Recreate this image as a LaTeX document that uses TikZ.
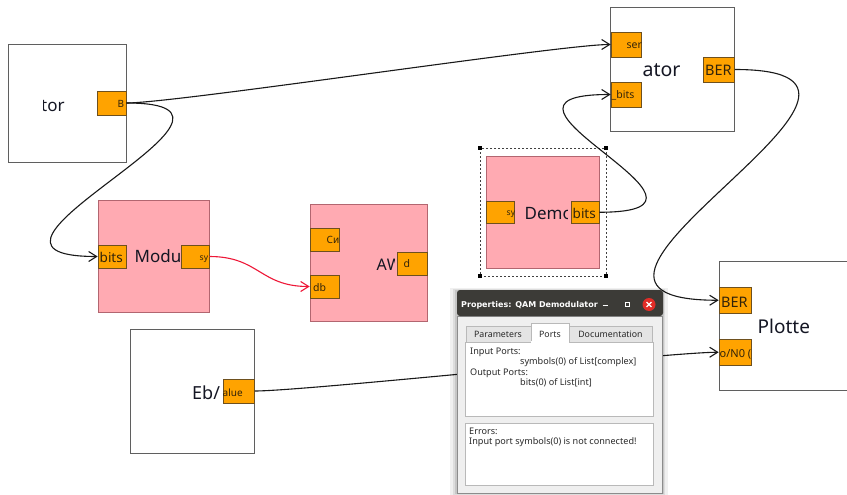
\documentclass[tikz,border=0pt]{standalone}
\usepackage{fontspec}
\setmainfont{Noto Sans}
\newfontfamily\dlgtitlefont{DejaVu Sans}
\usetikzlibrary{arrows.meta}
\definecolor{pinkfill}{RGB}{255,170,178}
\definecolor{pinkborder}{RGB}{178,102,112}
\definecolor{portfill}{RGB}{255,163,0}
\definecolor{portborder}{RGB}{110,80,30}
\definecolor{porttext}{RGB}{50,35,10}
\definecolor{blockborder}{RGB}{95,95,95}
\definecolor{titlecol}{RGB}{20,22,35}
\definecolor{wirecol}{RGB}{25,25,25}
\definecolor{redwire}{RGB}{238,24,56}
\definecolor{titlebar}{RGB}{60,59,55}
\definecolor{dlgbody}{RGB}{239,239,239}
\definecolor{dlgline}{RGB}{185,185,185}
\definecolor{tabfill}{RGB}{228,228,228}
\definecolor{closered}{RGB}{225,45,40}
\definecolor{dlgtext}{RGB}{40,40,40}
\newcommand\myfs[1]{\fontsize{#1}{#1}\selectfont}
\newcommand\mkport[9]{%
  \node[port, minimum width=#4pt, minimum height=#5pt] (#1) at (#2,#3) {};
  \begin{scope}
    \clip (#1.south west) rectangle (#1.north east);
    \node[plabel, font=\myfs{#9}] (#1l) at (#7,#8) {#6};
  \end{scope}}
\tikzset{
  wblock/.style={draw=blockborder, fill=white, line width=0.8pt, inner sep=0pt},
  pblock/.style={draw=pinkborder, fill=pinkfill, line width=0.8pt, inner sep=0pt},
  port/.style={draw=portborder, fill=portfill, line width=0.7pt, inner sep=0pt},
  plabel/.style={anchor=base west, inner sep=0pt, text=porttext},
  btitle/.style={anchor=base west, inner sep=0pt, text=titlecol, font=\myfs{17}},
  wire/.style={draw=wirecol, line width=1.1pt, -{Straight Barb[length=8pt,width=10pt]}},
  dtext/.style={anchor=base west, inner sep=0pt, text=dlgtext, font=\myfs{9.1}},
  tabtext/.style={anchor=base, inner sep=0pt, text=dlgtext, font=\myfs{8.8}},
}
\begin{document}
\begin{tikzpicture}[x=1pt,y=-1pt]
\useasboundingbox (0,0) rectangle (847,495);
\fill[white] (0,0) rectangle (847,495);

% ---------- blocks ----------
\node[wblock, minimum width=118pt, minimum height=118pt] (gen) at (67,103) {};
\node[pblock, minimum width=111pt, minimum height=112pt] (mod) at (153.5,256) {};
\node[pblock, minimum width=117pt, minimum height=117pt] (awgn) at (368.5,262.5) {};
\node[pblock, minimum width=113pt, minimum height=112pt] (dem) at (542.5,212) {};
\node[wblock, minimum width=124pt, minimum height=124.5pt] (eval) at (672.5,69.25) {};
\node[wblock, minimum width=140pt, minimum height=129pt] (plot) at (789,326) {};
\node[wblock, minimum width=124pt, minimum height=124.5pt] (ebn) at (192.5,391.25) {};

% selection frame round the demodulator
\draw[black!75, line width=0.6pt, dash pattern=on 2pt off 2pt] (480,148) rectangle (606,276);
\foreach \p in {(480,148),(606,148),(480,276),(606,276)}
  \fill[black] \p ++(-2,-2) rectangle ++(4,4);

% ---------- block titles (clipped as shown) ----------
\begin{scope}\clip (43.5,80) rectangle (96,125);
  \node[btitle] (tGen) at (41,111) {tor};\end{scope}
\begin{scope}\clip (120,235) rectangle (179,275);
  \node[btitle] (tMod) at (134.5,262) {Mod\rlap{u}};\end{scope}
\begin{scope}\clip (360,245) rectangle (394,280);
  \node[btitle, font=\myfs{16}] (tAwgn) at (376.5,270) {A\rlap{W}};\end{scope}
\begin{scope}\clip (515,195) rectangle (567,230);
  \node[btitle] (tDem) at (524.5,219) {Dem\rlap{o}};\end{scope}
\node[btitle, font=\myfs{19.5}] (tEval) at (642.5,77) {ator};
\begin{scope}\clip (752,305) rectangle (811,345);
  \node[btitle, font=\myfs{19}] (tPlot) at (757.5,333) {Plott\rlap{e}};\end{scope}
\begin{scope}\clip (185,375) rectangle (219,410);
  \node[btitle, font=\myfs{18}] (tEb) at (192,399) {Eb\rlap{/}};\end{scope}

% ---------- ports ----------
\mkport{gB}{111.5}{103}{29}{24}{B}{117.5}{108}{10}
\mkport{mBits}{112}{256.5}{28}{23}{bits}{99.5}{262}{13.5}
\mkport{mSy}{195}{256.5}{28}{23}{s\rlap{y}}{199.5}{260}{8.5}
\mkport{aCi}{324.5}{239.75}{29}{23.5}{Си}{326.5}{243.5}{10}
\mkport{aDb}{324.5}{286.5}{29}{23}{db}{313}{291}{10.5}
\mkport{aD}{412}{263.75}{30}{23.5}{d}{403.5}{267}{10.5}
\mkport{dSy}{500}{212.25}{28}{22.5}{s\rlap{y}}{506.5}{215.5}{8.5}
\mkport{dBits}{585}{212.25}{28}{22.5}{bits}{572.5}{218}{13.5}
\mkport{eSer}{626}{44.5}{30}{25}{ser}{626.5}{49}{10.5}
\mkport{eBits}{626}{94.5}{30}{25}{\_bits}{611.5}{99}{10.5}
\mkport{eBER}{718.75}{69.5}{31.5}{25}{BER}{705}{76}{14.5}
\mkport{pBER}{735.25}{300.25}{32.5}{25.5}{BER}{721}{307}{14.5}
\mkport{pEb}{735.25}{352.25}{32.5}{26.5}{o/N0 (}{719.5}{357}{11}
\mkport{ebVal}{238.75}{391}{31.5}{24}{alue}{222.5}{396}{10}

% ---------- connectors ----------
\draw[wire] (gB.east) .. controls +(50,0) and +(-50,0) .. (eSer.west);
\draw[wire] (gB.east) .. controls +(172,0) and +(-172,0) .. (mBits.west);
\draw[wire, draw=redwire] (mSy.east) .. controls +(50,0) and +(-50,0) .. (aDb.west);
\draw[wire] (dBits.east) .. controls +(158,0) and +(-158,0) .. (eBits.west);
\draw[wire] (eBER.east) .. controls +(228,0) and +(-228,0) .. (pBER.west);
\draw[wire] (ebVal.east) .. controls +(50,0) and +(-50,0) .. (pEb.west);

% ---------- properties dialog ----------
\fill[black, opacity=0.06] (450,288) rectangle (668,497);
\fill[black, opacity=0.08] (453,289) rectangle (665,495);
\fill[black, opacity=0.10] (455,290) rectangle (664,494);
\fill[dlgbody] (457,316) rectangle (662,493);
\draw[black!45, line width=0.5pt] (457,316) rectangle (662,493);
\fill[titlebar, rounded corners=3pt] (457,316) -- (457,290) -- (663,290) -- (663,316) -- cycle;
\node[anchor=base west, inner sep=0pt, text=white, font=\dlgtitlefont\bfseries\myfs{8}] (dTitle) at (461,307) {Properties: QAM Demodulator};
\draw[white, line width=1pt] (602.5,305.5) -- (607.5,305.5);
\draw[white, line width=0.9pt] (625.5,302.5) rectangle (629.5,306.5);
\fill[closered] (649,304.5) circle (6.5);
\draw[white, line width=1.1pt] (646.6,302.1) -- (651.4,306.9) (646.6,306.9) -- (651.4,302.1);

% tabs
\filldraw[fill=tabfill, draw=dlgline, line width=0.6pt] (466,342) -- (466,326) -- (531,326) -- (531,342);
\filldraw[fill=tabfill, draw=dlgline, line width=0.6pt] (569,342) -- (569,326) -- (652,326) -- (652,342);
% content box
\filldraw[fill=white, draw=dlgline, line width=0.6pt] (465,342) rectangle (653,416.5);
\filldraw[fill=white, draw=dlgline, line width=0.6pt] (531,342.6) -- (531,323) -- (569,323) -- (569,342.6);
\fill[white] (531.4,341) rectangle (568.6,343.4);
\node[tabtext] (tbPar) at (498,337) {Parameters};
\node[tabtext] (tbPorts) at (550,337) {Ports};
\node[tabtext] (tbDoc) at (610.5,337) {Documentation};

\node[dtext] (dIn) at (470,354) {Input Ports:};
\node[dtext] (dInT) at (520,364) {symbols(0) of List[complex]};
\node[dtext] (dOut) at (470,375) {Output Ports:};
\node[dtext] (dOutT) at (520,385) {bits(0) of List[int]};

\filldraw[fill=white, draw=dlgline, line width=0.6pt] (465,423) rectangle (653,485);
\node[dtext] (dErr) at (469,434) {Errors:};
\node[dtext] (dErrT) at (469,444) {Input port symbols(0) is not connected!};
\end{tikzpicture}
\end{document}
